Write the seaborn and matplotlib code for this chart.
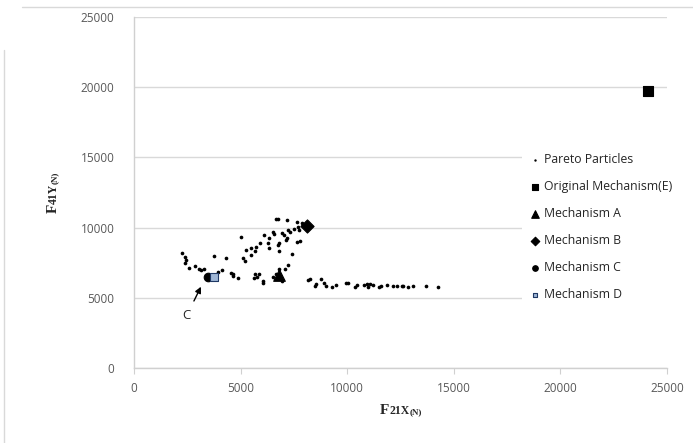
import numpy as np
import pandas as pd
import seaborn as sns
import matplotlib.pyplot as plt
from matplotlib.lines import Line2D
from matplotlib.transforms import IdentityTransform

# Pareto front particles (F21X, F41Y) in N
pareto_x = [2270, 2390, 2420, 2390, 2590, 2880, 3050, 3140, 3280, 3770,
            3930, 4110, 4330, 4550, 4660, 4630, 4890, 5020, 5130, 5210,
            5240, 5470, 5470, 5680, 5720, 5680, 5630, 5880, 5750, 5910,
            6060, 6040, 6100, 6300, 6350, 6350, 6530, 6580, 6530, 6650,
            6650, 6770, 6770, 6800, 6800, 6810, 7080, 6930, 6930, 7040,
            7160, 7210, 7160, 7130, 7240, 7320, 7420, 7500, 7630, 7680,
            7750, 7790, 7630, 7870, 7940,
            8170, 8250, 8490, 8540, 8760, 8930, 8990, 9270, 9470, 9940,
            10050, 10360, 10470, 10790, 10940, 10990, 11070, 11200, 11500, 11580,
            11880, 12160, 12320, 12560, 12630, 12870, 13100, 13680, 14270]
pareto_y = [8170, 7880, 7690, 7500, 7100, 7260, 7030, 6980, 7030, 7970,
            6860, 6980, 7810, 6740, 6690, 6550, 6430, 9310, 7810, 7640,
            8400, 8570, 8050, 8350, 8590, 6690, 6390, 6690, 6500, 8880,
            6070, 6220, 9470, 8920, 9230, 8570, 9700, 9540, 6500, 6670,
            10590, 10630, 8760, 8880, 8330, 7030, 7070, 6190, 9630, 9470,
            10540, 9830, 9230, 9110, 7330, 9700, 8100, 9880, 10420, 10060,
            9830, 9040, 8990, 10300, 10180,
            6270, 6320, 5840, 5980, 6320, 6070, 5840, 5750, 5910, 6030,
            6030, 5790, 5910, 5910, 5980, 5790, 5960, 5910, 5790, 5840,
            5910, 5840, 5840, 5840, 5840, 5790, 5840, 5840, 5750]

mech_names = ["Original Mechanism(E)", "Mechanism A", "Mechanism B",
              "Mechanism C", "Mechanism D"]
mech_x = [24100, 6800, 8100, 3450, 3750]
mech_y = [19700, 6600, 10100, 6450, 6500]

ticks = [0, 5000, 10000, 15000, 20000, 25000]

sns.set_style("white")
plt.rcParams["font.family"] = ["Open Sans", "DejaVu Sans"]

fig = plt.figure(figsize=(6.93, 4.43), dpi=100)
ax = fig.add_axes([134 / 693, 1 - 368 / 443, 533 / 693, 351 / 443])

pareto = pd.DataFrame({"x": pareto_x, "y": pareto_y})
sns.scatterplot(data=pareto, x="x", y="y", ax=ax, color="black", s=7,
                marker="o", linewidth=0, label="Pareto Particles", zorder=3)

styles = {
    "Original Mechanism(E)": dict(marker="s", s=48, color="black"),
    "Mechanism A": dict(marker="^", s=70, color="black"),
    "Mechanism B": dict(marker="D", s=45, color="black"),
    "Mechanism C": dict(marker="o", s=38, color="black"),
    "Mechanism D": dict(marker="s", s=26, color="#9fb6d6", edgecolor="#1f3864"),
}
for name, mx, my in zip(mech_names, mech_x, mech_y):
    st = dict(styles[name])
    ec = st.pop("edgecolor", st["color"])
    sns.scatterplot(x=[mx], y=[my], ax=ax, label=name, edgecolor=ec,
                    linewidth=0.8, zorder=4, **st)

ax.set_xlim(0, 25000)
ax.set_ylim(0, 25000)
ax.set_xticks(ticks)
ax.set_yticks(ticks)
ax.set_xlabel("")
ax.set_ylabel("")
ax.grid(axis="y", color="#d9d9d9", linewidth=1)
ax.set_axisbelow(True)
for side in ["top", "right"]:
    ax.spines[side].set_visible(False)
for side in ["left", "bottom"]:
    ax.spines[side].set_color("#d0d0d0")
    ax.spines[side].set_linewidth(1)
ax.tick_params(axis="x", colors="#595959", labelsize=8.5, length=4,
               color="#d0d0d0", pad=6, bottom=True)
ax.tick_params(axis="y", colors="#595959", labelsize=8.5, length=0, pad=14)

ax.annotate("C", xy=(3140, 5790), xytext=(2470, 3720), fontsize=9.5,
            ha="center", va="center",
            arrowprops=dict(arrowstyle="-|>", color="black", lw=1,
                            mutation_scale=9, shrinkA=4, shrinkB=0))

leg = ax.legend(loc="center left", bbox_to_anchor=(522 / 693, 1 - 227 / 443),
                bbox_transform=fig.transFigure, frameon=True, fontsize=8.8,
                labelspacing=1.15, handletextpad=0.2, handlelength=1.0,
                borderpad=0.6, borderaxespad=0, markerscale=0.65)
leg.get_frame().set_facecolor("white")
leg.get_frame().set_edgecolor("none")
leg.get_frame().set_alpha(1)
leg.set_zorder(6)


def stacked_label(pieces, x, y, vertical=False):
    # draw text pieces of different sizes one after another, centred on (x, y) in pixels
    renderer = fig.canvas.get_renderer()
    kw = dict(family="Liberation Serif", weight="bold", transform=IdentityTransform(),
              ha="left", va="baseline", rotation=90 if vertical else 0,
              rotation_mode="anchor")
    arts = [fig.text(0, 0, s, fontsize=fs, **kw) for s, fs in pieces]
    sizes = []
    for a in arts:
        bb = a.get_window_extent(renderer)
        sizes.append(bb.height if vertical else bb.width)
    pos = (y if vertical else x) - sum(sizes) / 2
    for a, w in zip(arts, sizes):
        a.set_position((x, pos) if vertical else (pos, y))
        pos += w


stacked_label([("F", 11), ("21X", 8.5), ("(N)", 6.5)], 401, 443 - 414)
stacked_label([("F", 11), ("41Y", 8.5), ("(N)", 6.5)], 56.5, 443 - 192.5, vertical=True)

# chart area border remnants
fig.add_artist(Line2D([22 / 693, 1], [1 - 7 / 443] * 2, color="#d9d9d9",
                      lw=1, transform=fig.transFigure))
fig.add_artist(Line2D([4 / 693] * 2, [0, 1 - 50 / 443], color="#d9d9d9",
                      lw=1, transform=fig.transFigure))

fig.savefig("out.png", dpi=100)
